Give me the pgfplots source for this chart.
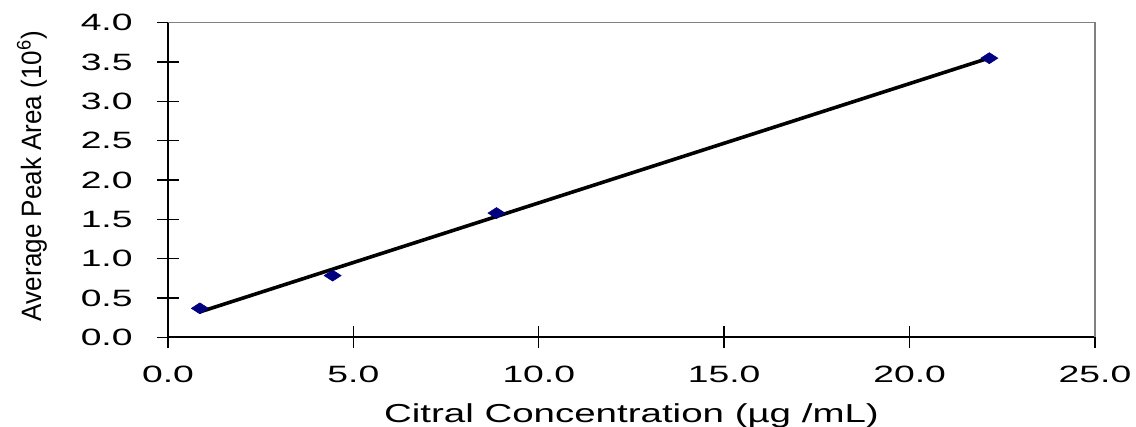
\documentclass[border=0pt]{standalone}
\usepackage{fontspec}
\usepackage{pgfplots}
\pgfplotsset{compat=1.18}
\setmainfont{Liberation Sans}
% the reference is stretched sideways, so the type is too
\newfontfamily\tickfont{Liberation Sans}[FakeStretch=1.58]
\newfontfamily\xlabfont{Liberation Sans}[FakeStretch=1.48]
\newfontfamily\ylabfont{Liberation Sans}[FakeStretch=0.93]
\definecolor{ptnavy}{HTML}{000080}
\definecolor{boxgray}{HTML}{808080}

\pgfdeclareplotmark{flatdiamond}{%
  \pgfpathmoveto{\pgfqpoint{-4.25pt}{0pt}}%
  \pgfpathlineto{\pgfqpoint{0pt}{2.75pt}}%
  \pgfpathlineto{\pgfqpoint{4.25pt}{0pt}}%
  \pgfpathlineto{\pgfqpoint{0pt}{-2.75pt}}%
  \pgfpathclose\pgfusepathqfillstroke}

\begin{document}
\begin{tikzpicture}
\useasboundingbox (-84pt,-44.75pt) rectangle (484pt,168.75pt);
\begin{axis}[
  at={(0,0)}, anchor=south west,
  scale only axis, width=463.5pt, height=157.5pt,
  xmin=0, xmax=25, ymin=0, ymax=4,
  xtick={0,5,...,25}, ytick={0,0.5,...,4},
  axis x line*=bottom, axis y line*=left,
  axis line style={black, line width=1pt, -},
  tick align=center, major tick length=11pt,
  tick style={black, line width=0.7pt},
  /pgf/number format/assume math mode=true,
  /pgf/number format/.cd, fixed, fixed zerofill, precision=1, /pgfplots/.cd,
  tick label style={font=\tickfont\fontsize{11.8}{12}\selectfont},
  xticklabel style={anchor=base, inner sep=0pt, yshift=-17pt},
  yticklabel style={anchor=east, inner sep=0pt, xshift=-12pt},
  xlabel={\xlabfont\fontsize{13}{14}\selectfont Citral Concentration (µg /mL)},
  xlabel style={at={(axis description cs:0.5,0)}, anchor=base, inner sep=0pt, yshift=-42.5pt},
  ylabel={\ylabfont\fontsize{14}{15}\selectfont Average Peak Area (10\textsuperscript{6})},
  % the label is turned, so yshift moves it sideways
  ylabel style={at={(axis description cs:0,0.5)}, anchor=center, inner sep=0pt, yshift=68pt, xshift=2pt},
  clip=false,
]
\draw[boxgray, line width=0.6pt] (rel axis cs:0,1) -- (rel axis cs:1,1) -- (rel axis cs:1,0);
\addplot[only marks, mark=flatdiamond, mark options={fill=ptnavy, draw=ptnavy, line width=0.3pt}]
  coordinates {(0.86,0.37) (4.44,0.786) (8.86,1.58) (22.15,3.547)};
\addplot[black, line width=1.8pt, mark=none]
  coordinates {(0.86,0.325) (22.15,3.55)};
\end{axis}
\end{tikzpicture}
\end{document}
